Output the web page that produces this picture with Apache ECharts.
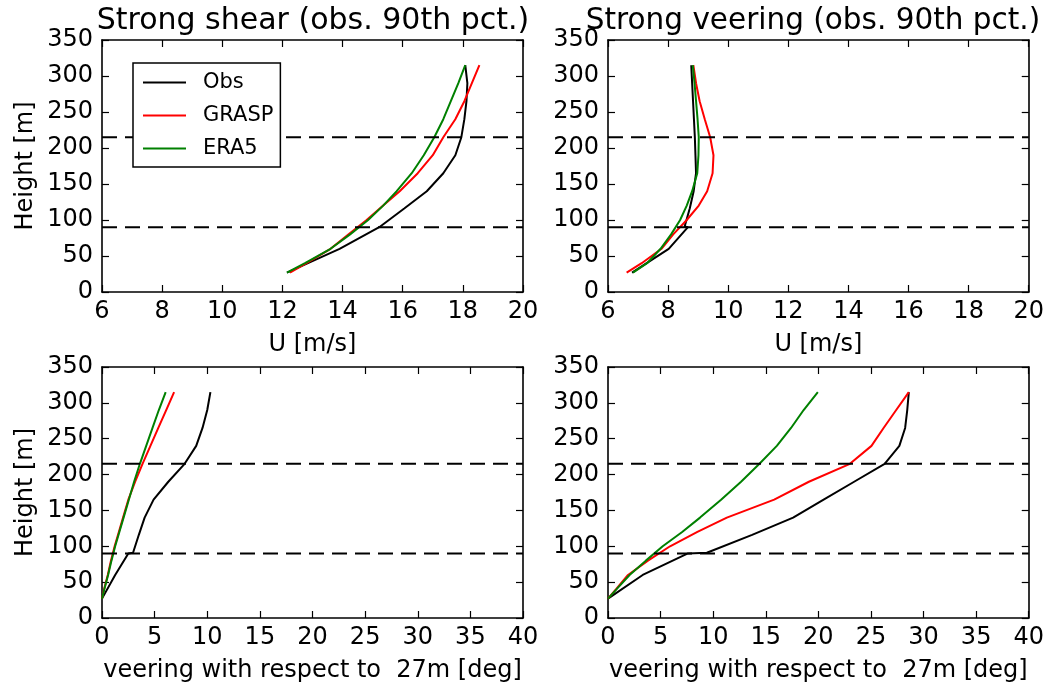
<!DOCTYPE html>
<html>
<head>
<meta charset="utf-8">
<script src="https://cdn.jsdelivr.net/npm/echarts@6/dist/echarts.min.js"></script>
<style>
html,body{margin:0;padding:0;background:#fff;}
#chart{width:1047px;height:691px;}
</style>
</head>
<body>
<div id="chart"></div>
<script>
// ---- data ----
const heightsObs = [27, 60, 90, 91, 116, 140, 165, 190, 215, 240, 265, 290, 315];
const heightsModel = [27, 40, 60, 80, 100, 120, 140, 165, 190, 215, 240, 265, 290, 315];

// Strong shear: wind speed U [m/s]
const shearObsU   = [12.15, 13.9, 15.22, 15.22, 16.05, 16.8, 17.35, 17.75, 17.95, 18.05, 18.12, 18.15, 18.08];
const shearGraspU = [12.25, 12.8, 13.6, 14.2, 14.8, 15.35, 15.9, 16.5, 17.0, 17.35, 17.75, 18.05, 18.3, 18.55];
const shearEra5U  = [12.15, 12.75, 13.6, 14.25, 14.85, 15.35, 15.8, 16.3, 16.7, 17.05, 17.35, 17.6, 17.85, 18.08];

// Strong veering: wind speed U [m/s]
const veerObsU   = [6.8, 8.02, 8.66, 8.55, 8.72, 8.85, 8.93, 8.91, 8.89, 8.86, 8.83, 8.8, 8.77];
const veerGraspU = [6.62, 7.12, 7.78, 8.17, 8.62, 9.02, 9.3, 9.48, 9.51, 9.4, 9.22, 9.05, 8.93, 8.84];
const veerEra5U  = [6.83, 7.3, 7.75, 8.1, 8.4, 8.62, 8.8, 8.97, 9.01, 9.02, 8.98, 8.93, 8.88, 8.82];

// Strong shear: veering w.r.t. 27 m [deg]
const shearObsV   = [0, 1.25, 2.5, 2.95, 3.5, 4.05, 4.9, 6.3, 7.85, 8.95, 9.55, 10.0, 10.3];
const shearGraspV = [0, 0.2, 0.55, 0.85, 1.2, 1.6, 2.0, 2.5, 3.15, 3.85, 4.6, 5.35, 6.1, 6.85];
const shearEra5V  = [0, 0.22, 0.58, 0.9, 1.25, 1.65, 2.05, 2.55, 3.05, 3.6, 4.2, 4.8, 5.4, 6.05];

// Strong veering: veering w.r.t. 27 m [deg]
const veerObsV   = [0, 3.3, 7.6, 9.4, 13.7, 17.6, 20.5, 23.4, 26.3, 27.7, 28.25, 28.45, 28.6];
const veerGraspV = [0, 0.75, 1.9, 3.8, 5.9, 8.5, 11.3, 15.8, 19.1, 23.0, 25.05, 26.2, 27.4, 28.6];
const veerEra5V  = [0, 0.8, 2.05, 3.6, 5.2, 7.05, 8.75, 10.75, 12.65, 14.4, 16.05, 17.4, 18.6, 19.95];

// reference heights (dashed lines)
const refHeights = [90, 215];

// tick labels
const heightTicks = [0, 50, 100, 150, 200, 250, 300, 350];
const uTicks = [6, 8, 10, 12, 14, 16, 18, 20];
const veerTicks = [0, 5, 10, 15, 20, 25, 30, 35, 40];

const titles = ['Strong shear (obs. 90th pct.)', 'Strong veering (obs. 90th pct.)'];
const xNames = ['U [m/s]', 'veering with respect to  27m [deg]'];
const yName = 'Height [m]';
const seriesNames = ['Obs', 'GRASP', 'ERA5'];
const seriesColors = ['#000000', '#ff0000', '#008000'];

// ---- build ----
const FONT = 'DejaVu Sans';
const grids = [
  {left: 102, top: 40, width: 421, height: 252},
  {left: 608, top: 40, width: 421, height: 252},
  {left: 102, top: 367, width: 421, height: 251},
  {left: 608, top: 367, width: 421, height: 251}
];
const panels = [
  {ticks: uTicks, xName: xNames[0], yLabel: true, data: [shearObsU, shearGraspU, shearEra5U]},
  {ticks: uTicks, xName: xNames[0], yLabel: false, data: [veerObsU, veerGraspU, veerEra5U]},
  {ticks: veerTicks, xName: xNames[1], yLabel: true, data: [shearObsV, shearGraspV, shearEra5V]},
  {ticks: veerTicks, xName: xNames[1], yLabel: false, data: [veerObsV, veerGraspV, veerEra5V]}
];

const axisLine = {show: true, onZero: false, lineStyle: {color: '#000', width: 1.6}};
const tick = {show: true, inside: true, length: 7, lineStyle: {color: '#000', width: 1.2}};
const labelStyle = {color: '#000', fontSize: 24, fontFamily: FONT};

const xAxis = [], yAxis = [], series = [];
panels.forEach((p, i) => {
  const xmin = p.ticks[0], xmax = p.ticks[p.ticks.length - 1], xint = p.ticks[1] - p.ticks[0];
  const ymin = heightTicks[0], ymax = heightTicks[heightTicks.length - 1], yint = heightTicks[1] - heightTicks[0];
  xAxis.push({
    type: 'value', gridIndex: i, position: 'bottom', min: xmin, max: xmax, interval: xint,
    axisLine, axisTick: tick, splitLine: {show: false},
    axisLabel: Object.assign({margin: 8, showMinLabel: true, showMaxLabel: true}, labelStyle),
    name: p.xName, nameLocation: 'middle', nameGap: 41,
    nameTextStyle: {color: '#000', fontSize: 24, fontFamily: FONT}
  });
  xAxis.push({
    type: 'value', gridIndex: i, position: 'top', min: xmin, max: xmax, interval: xint,
    axisLine, axisTick: tick, splitLine: {show: false}, axisLabel: {show: false}
  });
  yAxis.push({
    type: 'value', gridIndex: i, position: 'left', min: ymin, max: ymax, interval: yint,
    axisLine, axisTick: tick, splitLine: {show: false},
    axisLabel: Object.assign({margin: 9, showMinLabel: true, showMaxLabel: true}, labelStyle),
    name: p.yLabel ? yName : '', nameLocation: 'middle', nameGap: 64, nameRotate: 90,
    nameTextStyle: {color: '#000', fontSize: 24, fontFamily: FONT}
  });
  yAxis.push({
    type: 'value', gridIndex: i, position: 'right', min: ymin, max: ymax, interval: yint,
    axisLine, axisTick: tick, splitLine: {show: false}, axisLabel: {show: false}
  });
  p.data.forEach((vals, k) => {
    const hs = k === 0 ? heightsObs : heightsModel;
    series.push({
      type: 'line', name: seriesNames[k], xAxisIndex: 2 * i, yAxisIndex: 2 * i,
      data: vals.map((v, j) => [v, hs[j]]),
      showSymbol: false, symbol: 'none', smooth: false, clip: true,
      lineStyle: {color: seriesColors[k], width: 2},
      itemStyle: {color: seriesColors[k]},
      z: 3 + k
    });
  });
  refHeights.forEach(h => {
    series.push({
      type: 'line', name: 'ref', xAxisIndex: 2 * i, yAxisIndex: 2 * i,
      data: [[xmin, h], [xmax, h]],
      showSymbol: false, symbol: 'none', silent: true,
      lineStyle: {color: '#000', width: 2, type: [15, 8]},
      z: 6
    });
  });
});

const chart = echarts.init(document.getElementById('chart'), null, {renderer: 'canvas'});
chart.setOption({
  animation: false,
  backgroundColor: '#fff',
  title: [
    {text: titles[0], left: 308, top: 1, textAlign: 'center',
     textStyle: {color: '#000', fontSize: 30, fontWeight: 'normal', fontFamily: FONT}},
    {text: titles[1], left: 808, top: 1, textAlign: 'center',
     textStyle: {color: '#000', fontSize: 29.5, fontWeight: 'normal', fontFamily: FONT}}
  ],
  legend: {
    data: seriesNames, orient: 'vertical', left: 133, top: 63, z: 20,
    backgroundColor: '#fff', borderColor: '#000', borderWidth: 1.5,
    padding: [9, 7, 8, 9], itemWidth: 43, itemHeight: 20, itemGap: 12,
    itemStyle: {opacity: 0},
    formatter: name => '{g|}' + name,
    textStyle: {color: '#000', fontSize: 21, fontFamily: FONT,
      rich: {g: {width: 12, fontSize: 21}}},
    selectedMode: false
  },
  grid: grids,
  xAxis, yAxis, series
});
</script>
</body>
</html>
